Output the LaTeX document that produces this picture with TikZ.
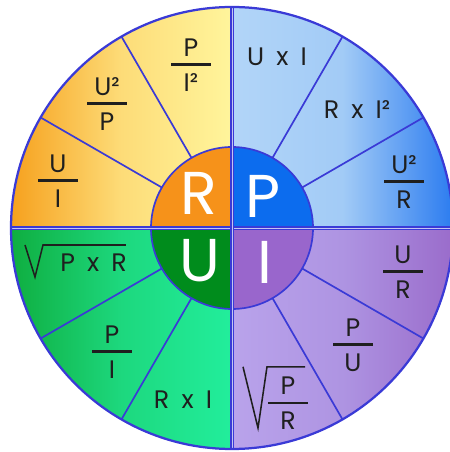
\documentclass[tikz,border=0pt]{standalone}
\usepackage{fontspec}
\setmainfont{Poppins}
\newfontfamily\formulafont[WordSpace=1.8]{Poppins}

\definecolor{rim}{HTML}{3A3AD6}
\definecolor{naranja}{HTML}{F6A11E}
\definecolor{amarillo}{HTML}{FDDC78}
\definecolor{crema}{HTML}{FFF59C}
\definecolor{celeste}{HTML}{B2D5F8}
\definecolor{azulmed}{HTML}{A2CBF6}
\definecolor{azul}{HTML}{2C7CF0}
\definecolor{verdeosc}{HTML}{0FAE40}
\definecolor{verdemed}{HTML}{1DD87E}
\definecolor{aqua}{HTML}{22EE9C}
\definecolor{lavanda}{HTML}{B9A3EB}
\definecolor{lilamed}{HTML}{AE94E2}
\definecolor{lila}{HTML}{9A6CCB}
\definecolor{centroR}{HTML}{F6921A}
\definecolor{centroP}{HTML}{0C6CEE}
\definecolor{centroU}{HTML}{008C1C}
\definecolor{centroI}{HTML}{9966CC}

\setlength{\arrayrulewidth}{2pt}
\newcommand{\ohmfrac}[2]{\begin{tabular}{@{}c@{}}\makebox[28pt]{#1}\\[-1pt]\hline\rule{0pt}{1.8ex}\makebox[28pt]{#2}\end{tabular}}

\begin{document}
\begin{tikzpicture}[
    sector/.style  = {draw=rim, line width=1.2pt},
    radio/.style   = {draw=rim, line width=1.2pt},
    eje/.style     = {draw=rim, line width=0.9pt, double=rim!30!white, double distance=0.7pt},
    borde/.style   = {draw=rim, line width=1.6pt},
    formula/.style = {text=black!88, inner sep=0pt, font=\formulafont\fontsize{18}{20}\selectfont},
    letra/.style   = {text=white, inner sep=0pt, font=\fontsize{43}{45}\selectfont},
    raiz/.style    = {draw=black!88, line width=1.1pt, line join=miter},
]
\useasboundingbox (-5.8,-5.6) rectangle (5.425,5.7);

% --- Cuadrantes exteriores (degradado) ---
\shade[left color=naranja, right color=crema, middle color=amarillo]
  (0,0) -- (90:5.525) arc[start angle=90, end angle=180, radius=5.525] -- cycle;
\shade[left color=celeste, right color=azul, middle color=azulmed]
  (0,0) -- (0:5.525) arc[start angle=0, end angle=90, radius=5.525] -- cycle;
\shade[left color=verdeosc, right color=aqua, middle color=verdemed]
  (0,0) -- (180:5.525) arc[start angle=180, end angle=270, radius=5.525] -- cycle;
\shade[left color=lavanda, right color=lila, middle color=lilamed]
  (0,0) -- (270:5.525) arc[start angle=270, end angle=360, radius=5.525] -- cycle;

% --- Radios entre formulas ---
\draw[radio] (30:2.025)  -- (30:5.525);
\draw[radio] (60:2.025)  -- (60:5.525);
\draw[radio] (120:2.025) -- (120:5.525);
\draw[radio] (150:2.025) -- (150:5.525);
\draw[radio] (210:2.025) -- (210:5.525);
\draw[radio] (240:2.025) -- (240:5.525);
\draw[radio] (300:2.025) -- (300:5.525);
\draw[radio] (330:2.025) -- (330:5.525);

% --- Circulo central ---
\fill[centroR] (0,0) -- (90:2.025)  arc[start angle=90,  end angle=180, radius=2.025] -- cycle;
\fill[centroP] (0,0) -- (0:2.025)   arc[start angle=0,   end angle=90,  radius=2.025] -- cycle;
\fill[centroU] (0,0) -- (180:2.025) arc[start angle=180, end angle=270, radius=2.025] -- cycle;
\fill[centroI] (0,0) -- (270:2.025) arc[start angle=270, end angle=360, radius=2.025] -- cycle;
\draw[sector] (0,0) circle[radius=2.025];

% --- Ejes y borde ---
\draw[eje] (180:5.525) -- (0:5.525);
\draw[eje] (270:5.525) -- (90:5.525);
\draw[borde] (0,0) circle[radius=5.525];

% --- Letras centrales ---
\node[letra] (letraR) at (-0.825,0.87) {R};
\node[letra] (letraP) at (0.78,0.8)    {P};
\node[letra] (letraU) at (-0.8,-0.82)  {U};
\node[letra] (letraI) at (0.83,-0.85)  {I};

% --- Formulas de P ---
\node[formula] (pUI)  at (1.125,4.275) {U x I};
\node[formula] (pRI)  at (3.125,2.95)  {R x I²};
\node[formula] (pUR)  at (4.3,1.075)   {\ohmfrac{U²}{R}};

% --- Formulas de R ---
\node[formula] (rPI)  at (-1.025,4.0)  {\ohmfrac{P}{I²}};
\node[formula] (rUP)  at (-3.125,3.025){\ohmfrac{U²}{P}};
\node[formula] (rUI)  at (-4.35,1.1)   {\ohmfrac{U}{I}};

% --- Formulas de U ---
\node[formula] (uPR)  at (-3.46,-0.86) {P x R};
\draw[raiz] ([shift={(-1.715,0.435)}]uPR.center) -- ([shift={(-1.465,-0.365)}]uPR.center)
  -- ([shift={(-1.265,0.435)}]uPR.center) -- ([shift={(0.81,0.435)}]uPR.center);
\node[formula] (uPI)  at (-3.0,-3.175) {\ohmfrac{P}{I}};
\node[formula] (uRI)  at (-1.225,-4.3) {R x I};

% --- Formulas de I ---
\node[formula] (iPR)  at (1.4,-4.46)   {\ohmfrac{P}{R}};
\draw[raiz] ([shift={(-1.125,0.99)}]iPR.center) -- ([shift={(-0.75,-0.54)}]iPR.center)
  -- ([shift={(-0.525,0.99)}]iPR.center) -- ([shift={(0.425,0.99)}]iPR.center);
\node[formula] (iPU)  at (3.025,-3.0)  {\ohmfrac{P}{U}};
\node[formula] (iUR)  at (4.275,-1.175){\ohmfrac{U}{R}};

\end{tikzpicture}
\end{document}
